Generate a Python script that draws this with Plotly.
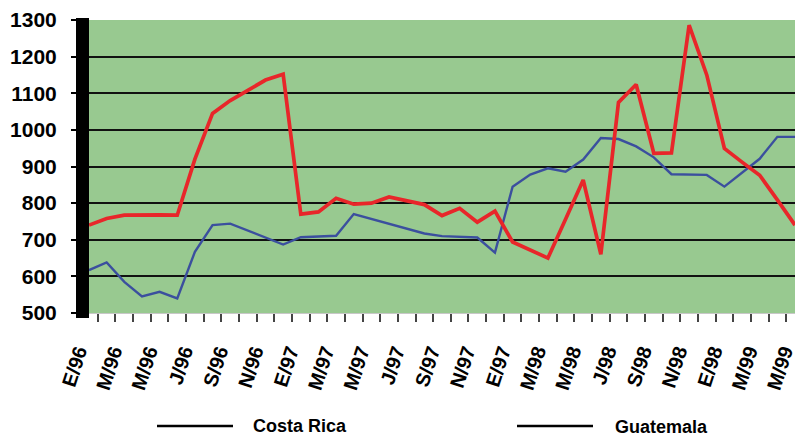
import plotly.graph_objects as go

# Monthly series, E/96 (Jan 1996) .. M/99 (May 1999)
months = list(range(41))
tick_labels = ["E/96", "M/96", "M/96", "J/96", "S/96", "N/96", "E/97", "M/97", "M/97", "J/97",
               "S/97", "N/97", "E/97", "M/98", "M/98", "J/98", "S/98", "N/98", "E/98", "M/99", "M/99"]

costa_rica = [617, 638, 585, 545, 558, 540, 667, 740, 744, 725,
              705, 687, 707, 710, 711, 770, 757, 744, 731, 717,
              710, 708, 706, 665, 845, 878, 895, 886, 919, 978,
              975, 955, 925, 879, 877, 877, 845, 883, 921, 981, 981]

guatemala = [740, 758, 767, 768, 768, 767, 920, 1045, 1080, 1108,
             1136, 1152, 770, 776, 813, 797, 800, 817, 806, 796,
             766, 786, 748, 778, 694, 672, 650, 756, 863, 660,
             1075, 1124, 936, 937, 1286, 1150, 949, 912, 876, 809, 740]

series_names = ["Costa Rica", "Guatemala"]

FONT = "Liberation Sans"
W, H = 798, 436
ML, MR, MT, MB = 89, 3, 20, 123
PW, PH = W - ML - MR, H - MT - MB


def px_x(px):
    return (px - ML) / PW


def px_y(py):
    return (H - MB - py) / PH


fig = go.Figure()
fig.add_trace(go.Scatter(x=months, y=costa_rica, mode="lines", name=series_names[0],
                         line=dict(color="#3b4f9e", width=2.4), showlegend=False))
fig.add_trace(go.Scatter(x=months, y=guatemala, mode="lines", name=series_names[1],
                         line=dict(color="#e8262a", width=3.7), showlegend=False))

label_positions = list(range(0, 41, 2))
alias = {str(v): t for v, t in zip(label_positions, tick_labels)}

fig.update_xaxes(
    range=[0, 40], tickmode="linear", tick0=0, dtick=2, labelalias=alias, automargin=False,
    ticklabeloverflow="allow", ticklabelshift=-11,
    tickangle=-72, ticks="outside", ticklen=18, tickcolor="rgba(0,0,0,0)",
    tickfont=dict(family=FONT, size=20, color="black", weight="bold"),
    showgrid=False, zeroline=False, showline=True, linecolor="#c8c8c8", linewidth=1,
    minor=dict(ticks="outside", tick0=0.5, dtick=1, ticklen=8, tickcolor="#444444",
               tickwidth=2, showgrid=False),
)
fig.update_yaxes(
    range=[500, 1300], tickmode="linear", tick0=500, dtick=100, automargin=False,
    ticklabeloverflow="allow",
    showgrid=True, gridcolor="#111111", gridwidth=2, zeroline=False, showline=False,
    ticks="outside", ticklen=17, tickcolor="black", tickwidth=2, ticklabelstandoff=10,
    tickfont=dict(family=FONT, size=21, color="black", weight="bold"),
)

shapes = [
    # thick black left axis bar
    dict(type="rect", xref="paper", yref="paper", x0=px_x(76), x1=0, y0=px_y(318), y1=px_y(18),
         fillcolor="black", line=dict(width=0), layer="above"),
    # legend lines
    dict(type="line", xref="paper", yref="paper", x0=px_x(157), x1=px_x(233),
         y0=px_y(426), y1=px_y(426), line=dict(color="black", width=2.5)),
    dict(type="line", xref="paper", yref="paper", x0=px_x(517), x1=px_x(593),
         y0=px_y(426), y1=px_y(426), line=dict(color="black", width=2.5)),
]
annotations = [
    dict(text=series_names[0], xref="paper", yref="paper", x=px_x(251), y=px_y(426),
         xanchor="left", yanchor="middle", showarrow=False,
         font=dict(family=FONT, size=18, color="black", weight="bold")),
    dict(text=series_names[1], xref="paper", yref="paper", x=px_x(613), y=px_y(427),
         xanchor="left", yanchor="middle", showarrow=False,
         font=dict(family=FONT, size=18, color="black", weight="bold")),
]

fig.update_layout(
    width=W, height=H, margin=dict(l=ML, r=MR, t=MT, b=MB, autoexpand=False),
    paper_bgcolor="white", plot_bgcolor="#98c990",
    shapes=shapes, annotations=annotations, showlegend=False,
)

fig.write_html("out.html", config={"displayModeBar": False},
               post_script="document.body.style.margin='0';")
